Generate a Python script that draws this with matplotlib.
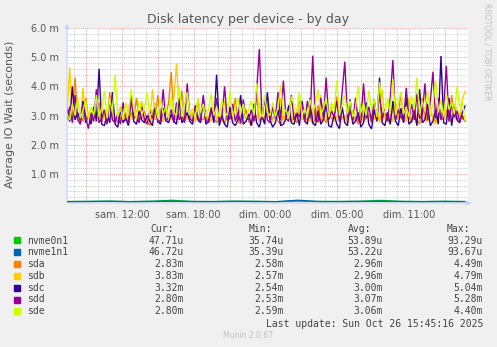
import numpy as np
import matplotlib
matplotlib.use('Agg')
import matplotlib.pyplot as plt
from matplotlib.ticker import MultipleLocator, FixedLocator

# values in milliseconds, one sample every ~13 min
sda = [2.85, 3.10, 2.90, 4.30, 2.95, 3.05, 2.80, 3.60, 2.95, 2.75, 3.20, 2.90, 3.45, 2.80, 3.05,
       2.70, 3.80, 2.85, 2.95, 2.75, 3.30, 2.80, 3.05, 2.70, 3.10, 2.90, 3.60, 2.85, 2.95, 3.15,
       2.80, 2.65, 3.20, 2.85, 3.70, 2.95, 2.80, 3.05, 3.40, 4.49, 2.90, 2.85, 3.00, 3.85, 2.80,
       2.95, 2.90, 3.10, 2.80, 3.55, 2.90, 2.85, 3.05, 2.80, 3.30, 2.90, 2.75, 3.00, 2.85, 2.70,
       3.15, 2.85, 2.95, 3.60, 2.80, 2.70, 2.95, 3.20, 2.80, 2.65, 2.90, 3.75, 2.80, 2.95, 2.75,
       3.45, 2.85, 2.90, 3.05, 2.80, 2.70, 3.00, 2.85, 3.25, 2.80, 2.90, 2.75, 3.50, 2.85, 2.95,
       2.80, 3.05, 2.70, 2.90, 3.35, 2.80, 2.95, 2.75, 3.10, 2.90, 2.85, 3.65, 2.80, 2.90, 3.00,
       2.75, 3.20, 2.85, 2.95, 2.70, 3.40, 2.80, 2.90, 3.05, 2.75, 3.55, 2.85, 2.95, 2.80, 3.15,
       2.90, 2.70, 3.30, 2.85, 2.95, 3.80, 2.80, 2.90, 3.05, 2.75, 3.25, 2.85, 2.70, 3.60, 2.90,
       2.80, 3.10, 2.95, 2.75, 3.40, 2.85, 2.90, 3.20, 2.80, 3.70, 2.95, 2.85, 3.05, 2.90, 2.83]
sdb = [3.00, 4.65, 2.90, 3.15, 3.00, 2.80, 3.95, 2.90, 3.10, 2.85, 3.25, 3.00, 2.80, 3.40, 2.95,
       2.85, 3.60, 2.90, 2.75, 3.15, 2.90, 3.00, 2.80, 3.35, 2.90, 2.85, 3.20, 2.95, 3.50, 2.85,
       3.00, 2.80, 3.90, 2.85, 3.05, 2.90, 2.80, 3.25, 2.95, 2.85, 3.60, 4.79, 3.15, 2.80, 3.45,
       2.90, 2.85, 3.10, 2.80, 3.00, 2.95, 3.40, 2.85, 3.00, 2.80, 3.25, 2.90, 2.85, 3.05, 3.50,
       2.80, 2.95, 3.15, 2.85, 3.00, 2.80, 3.30, 2.90, 2.85, 3.10, 2.95, 2.80, 3.45, 2.90, 2.85,
       3.05, 2.95, 2.80, 3.20, 2.90, 3.60, 2.85, 2.95, 3.00, 2.80, 3.15, 2.90, 3.40, 2.85, 2.95,
       3.05, 2.80, 3.25, 2.90, 2.75, 3.70, 2.85, 3.00, 2.90, 3.30, 2.80, 2.95, 3.15, 2.85, 3.00,
       2.80, 3.50, 2.90, 2.85, 3.10, 2.95, 2.80, 3.35, 2.90, 3.00, 2.85, 3.20, 2.75, 3.90, 2.90,
       2.85, 3.05, 2.80, 3.45, 2.95, 2.90, 3.15, 2.80, 3.60, 2.85, 3.00, 2.90, 3.25, 2.75, 3.05,
       2.85, 3.35, 2.90, 2.70, 3.10, 2.85, 3.55, 2.90, 3.00, 2.75, 3.40, 3.20, 2.95, 3.55, 3.83]
sdc = [3.20, 2.80, 4.00, 2.85, 3.10, 2.80, 3.50, 2.75, 3.00, 2.70, 3.30, 2.80, 4.60, 2.70, 2.65,
       3.05, 2.75, 3.80, 2.70, 2.60, 3.20, 2.75, 2.90, 2.65, 3.60, 2.80, 2.70, 3.15, 2.85, 2.75,
       3.00, 2.80, 2.65, 3.40, 2.80, 2.70, 3.25, 2.85, 2.75, 3.05, 2.80, 2.70, 3.60, 2.75, 2.90,
       3.10, 2.80, 2.70, 3.30, 2.85, 2.75, 3.60, 2.70, 2.80, 3.20, 2.75, 4.40, 2.65, 3.00, 2.70,
       2.60, 3.30, 2.75, 2.65, 2.85, 3.70, 2.70, 2.80, 3.05, 2.65, 3.40, 2.75, 2.60, 3.00, 2.70,
       3.80, 2.85, 2.60, 2.75, 3.20, 2.65, 2.70, 2.90, 3.35, 2.75, 2.70, 3.10, 2.65, 3.50, 2.80,
       2.70, 3.60, 2.75, 2.65, 3.15, 2.70, 2.85, 3.40, 2.65, 2.60, 3.05, 2.70, 2.55, 3.30, 2.75,
       2.65, 3.55, 2.70, 2.80, 3.10, 2.60, 2.75, 3.45, 2.70, 2.54, 3.20, 2.80, 4.30, 2.75, 2.65,
       3.10, 2.70, 3.50, 2.80, 2.65, 3.25, 2.75, 3.60, 2.70, 2.80, 3.15, 2.65, 3.90, 2.75, 2.85,
       3.40, 2.65, 2.80, 3.20, 2.70, 5.04, 2.75, 2.70, 3.60, 2.65, 3.30, 2.85, 2.75, 3.10, 3.32]
sdd = [2.90, 3.30, 2.75, 3.70, 2.85, 2.70, 3.40, 2.95, 2.55, 3.10, 2.80, 3.90, 2.75, 2.90, 3.20,
       2.70, 3.50, 2.85, 2.75, 3.05, 2.70, 3.45, 2.85, 2.75, 3.70, 2.90, 3.00, 2.75, 3.30, 2.85,
       2.70, 3.15, 2.90, 3.40, 2.75, 2.85, 3.90, 2.80, 2.95, 3.20, 2.75, 3.45, 2.85, 3.00, 2.75,
       4.10, 2.90, 2.80, 3.35, 2.95, 2.80, 3.70, 2.85, 2.75, 3.25, 2.90, 3.60, 2.80, 2.95, 4.00,
       2.85, 2.90, 3.40, 2.80, 3.10, 2.75, 3.55, 2.90, 2.85, 3.20, 2.80, 3.85, 5.28, 2.90, 3.60,
       2.85, 2.75, 3.30, 2.90, 3.80, 2.85, 4.20, 2.90, 2.80, 3.70, 2.85, 3.10, 2.95, 3.40, 2.80,
       3.50, 2.90, 5.05, 2.85, 2.80, 3.60, 2.90, 4.30, 2.85, 3.15, 2.95, 3.50, 2.80, 3.80, 4.85,
       2.90, 3.15, 2.80, 3.60, 2.85, 2.75, 4.10, 2.90, 3.30, 2.80, 3.55, 2.85, 3.75, 2.90, 3.20,
       2.80, 3.60, 4.90, 2.85, 3.20, 2.95, 2.80, 3.95, 2.90, 3.40, 2.85, 3.75, 2.90, 3.00, 4.10,
       2.85, 3.50, 4.50, 2.90, 3.60, 2.85, 3.25, 4.70, 2.80, 3.40, 2.95, 3.15, 2.80, 3.00, 2.80]
sde = [3.05, 2.85, 3.40, 3.00, 3.60, 2.90, 3.20, 3.50, 2.85, 3.30, 3.00, 3.70, 2.95, 3.25, 3.85,
       2.90, 3.55, 3.10, 4.40, 2.95, 3.25, 2.85, 3.45, 3.00, 3.90, 3.20, 2.90, 3.50, 3.05, 3.25,
       3.80, 2.95, 3.15, 3.40, 2.90, 3.55, 3.05, 3.30, 2.90, 3.65, 3.10, 3.00, 4.00, 2.95, 3.35,
       3.80, 3.00, 3.25, 2.90, 3.60, 3.10, 3.40, 2.95, 3.20, 3.75, 3.00, 3.30, 2.95, 3.55, 3.10,
       3.00, 3.85, 2.95, 3.25, 3.60, 3.05, 3.40, 2.90, 3.20, 3.50, 3.00, 4.10, 3.15, 2.95, 3.70,
       3.10, 3.00, 3.45, 2.95, 3.30, 4.05, 3.05, 3.20, 2.90, 3.65, 3.35, 3.10, 3.80, 3.00, 3.25,
       2.95, 3.55, 3.10, 3.40, 3.90, 3.00, 3.25, 3.60, 2.95, 3.45, 3.15, 4.20, 3.00, 3.35, 3.70,
       3.05, 3.50, 2.95, 3.25, 4.00, 3.10, 3.40, 3.00, 3.85, 3.20, 3.55, 2.95, 4.15, 3.30, 3.05,
       3.60, 3.10, 4.25, 3.00, 3.45, 3.80, 3.05, 3.30, 2.95, 3.70, 3.20, 4.30, 3.05, 3.50, 3.15,
       3.85, 3.00, 3.40, 4.20, 3.10, 3.55, 2.95, 3.75, 3.20, 3.45, 3.05, 4.00, 3.30, 3.50, 2.80]
nvme0n1 = [0.048, 0.052, 0.061, 0.045, 0.055, 0.093, 0.050, 0.047, 0.058, 0.053,
           0.044, 0.062, 0.051, 0.049, 0.056, 0.088, 0.052, 0.047, 0.054, 0.048]
nvme1n1 = [0.047, 0.051, 0.059, 0.046, 0.054, 0.060, 0.049, 0.048, 0.057, 0.052,
           0.045, 0.094, 0.050, 0.048, 0.055, 0.058, 0.051, 0.046, 0.053, 0.047]

names = ['nvme0n1', 'nvme1n1', 'sda', 'sdb', 'sdc', 'sdd', 'sde']
colors = ['#00CC00', '#0066B3', '#FF8000', '#FFCC00', '#330099', '#990099', '#CCFF00']
cur = ['47.71u', '46.72u', '2.83m', '3.83m', '3.32m', '2.80m', '2.80m']
vmin = ['35.74u', '35.39u', '2.58m', '2.57m', '2.54m', '2.53m', '2.59m']
avg = ['53.89u', '53.22u', '2.96m', '2.96m', '3.00m', '3.07m', '3.06m']
vmax = ['93.29u', '93.67u', '4.49m', '4.79m', '5.04m', '5.28m', '4.40m']

tick_hours = [12, 18, 24, 30, 36]   # hours since sat 00:00 (DST change on sunday)
tick_labels = ['sam. 12:00', 'sam. 18:00', 'dim. 00:00', 'dim. 05:00', 'dim. 11:00']
t_start, t_end = 7.4, 40.7
x_left, x_right = 7.4, 40.95

series = [nvme0n1, nvme1n1, sda, sdb, sdc, sdd, sde]

fig = plt.figure(figsize=(4.97, 3.47), dpi=100, facecolor='#F0F0F0')
ax = fig.add_axes([67 / 497, 144 / 347, 401 / 497, 175 / 347])
ax.set_facecolor('white')

for vals, c in zip(series, colors):
    t = np.linspace(t_start, t_end, len(vals))
    ax.plot(t, vals, color=c, lw=1.0, solid_joinstyle='miter')

ax.set_xlim(x_left, x_right)
ax.set_ylim(0, 6.0)

ax.yaxis.set_major_locator(FixedLocator([1, 2, 3, 4, 5, 6]))
ax.yaxis.set_minor_locator(MultipleLocator(0.2))
ax.set_yticklabels(['%.1f m' % v for v in [1, 2, 3, 4, 5, 6]])
ax.xaxis.set_major_locator(FixedLocator(tick_hours))
ax.xaxis.set_minor_locator(MultipleLocator(1))
ax.set_xticklabels(tick_labels)

ax.grid(False)
for h in np.arange(9, 41, 3):
    ax.axvline(h, color='#F0A0A0', lw=0.7, ls=(0, (1, 1)), zorder=0)
for h in np.arange(8, 41, 1):
    if h % 3:
        ax.axvline(h, color='#CCCCCC', lw=0.7, ls=(0, (1, 1)), zorder=0)
for v in np.arange(0.2, 6.01, 0.2):
    if abs(v - round(v)) < 1e-6:
        ax.axhline(v, color='#F0A0A0', lw=0.7, ls=(0, (1, 1)), zorder=0)
    else:
        ax.axhline(v, color='#CCCCCC', lw=0.7, ls=(0, (1, 1)), zorder=0)

ax.tick_params(axis='both', which='both', length=0, labelsize=7, colors='#555555')
ax.tick_params(axis='y', pad=6)
ax.tick_params(axis='x', pad=5)
for s in ax.spines.values():
    s.set_visible(False)

# axis arrows
ax.annotate('', xy=(0, 1.04), xytext=(0, 0), xycoords='axes fraction',
            arrowprops=dict(arrowstyle='-|>', color='#C8D0FF', lw=0.8, mutation_scale=7))
ax.annotate('', xy=(1.015, 0), xytext=(0, 0), xycoords='axes fraction',
            arrowprops=dict(arrowstyle='-|>', color='#C8D0FF', lw=0.8, mutation_scale=7))

fig.text(248 / 497, 1 - 19 / 347, 'Disk latency per device - by day', ha='center', va='center',
         fontsize=9, color='#555555')
fig.text(10 / 497, 1 - 114 / 347, 'Average IO Wait (seconds)', rotation=90, ha='center',
         va='center', fontsize=8, color='#555555')
fig.text(487 / 497, 1 - 52 / 347, 'RRDTOOL / TOBI OETIKER', rotation=270, ha='center',
         va='center', fontsize=5.5, color='#C0C0C0')

mono = 'DejaVu Sans Mono'
fs = 7
lc = '#444444'
hy = 229
for hx, lab in zip([150, 249, 348, 447], ['Cur:', 'Min:', 'Avg:', 'Max:']):
    fig.text(hx / 497, 1 - hy / 347, lab, ha='left', va='center', family=mono, fontsize=fs, color=lc)
for i, n in enumerate(names):
    y = 1 - (240.5 + i * 11.8) / 347
    fig.patches.append(plt.Rectangle((14 / 497, y - 3 / 347), 6 / 497, 6 / 347,
                                     transform=fig.transFigure, color=colors[i]))
    fig.text(27 / 497, y, n, ha='left', va='center', family=mono, fontsize=fs, color=lc)
    for vx, vals in zip([184, 284, 383, 483], [cur, vmin, avg, vmax]):
        fig.text(vx / 497, y, vals[i], ha='right', va='center', family=mono, fontsize=fs, color=lc)
fig.text(483 / 497, 1 - 324 / 347, 'Last update: Sun Oct 26 15:45:16 2025', ha='right',
         va='center', family=mono, fontsize=fs, color=lc)
fig.text(248 / 497, 1 - 336 / 347, 'Munin 2.0.67', ha='center', va='center',
         fontsize=5.5, color='#C0C0C0')

fig.savefig('out.png', dpi=100, facecolor=fig.get_facecolor())
